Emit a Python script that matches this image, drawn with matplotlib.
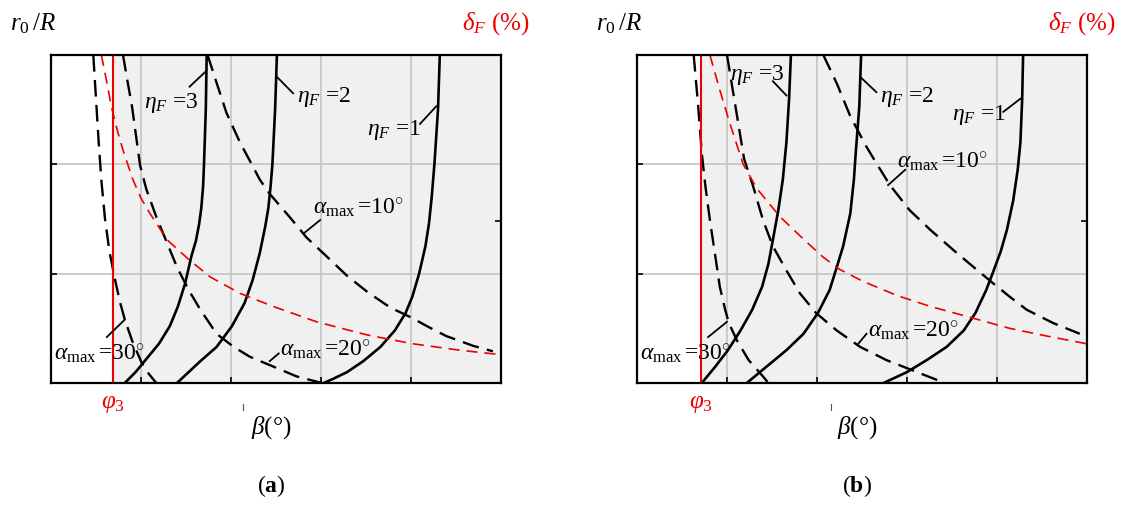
import numpy as np
import matplotlib
matplotlib.use("Agg")
import matplotlib.pyplot as plt
from matplotlib.lines import Line2D

plt.rcParams["font.family"] = ["Liberation Serif", "DejaVu Serif"]
plt.rcParams["mathtext.fontset"] = "custom"
plt.rcParams["mathtext.rm"] = "Liberation Serif"
plt.rcParams["mathtext.it"] = "Liberation Serif:italic"
plt.rcParams["mathtext.bf"] = "Liberation Serif:bold"
plt.rcParams["lines.scale_dashes"] = False

# ---------------- data: panel (a) ----------------
phi3_a = 0.69
eta3_a_x = [1.73, 1.72, 1.70, 1.69, 1.67, 1.645, 1.61, 1.56, 1.49, 1.41, 1.32, 1.20, 1.04, 0.94, 0.82]
eta3_a_y = [3.00, 2.50, 2.00, 1.80, 1.60, 1.45, 1.30, 1.16, 0.91, 0.70, 0.52, 0.36, 0.20, 0.10, 0.00]
eta2_a_x = [2.51, 2.49, 2.46, 2.44, 2.415, 2.38, 2.32, 2.24, 2.15, 2.01, 1.84, 1.66, 1.53, 1.40]
eta2_a_y = [3.00, 2.50, 2.00, 1.80, 1.60, 1.43, 1.19, 0.94, 0.73, 0.52, 0.33, 0.20, 0.10, 0.00]
eta1_a_x = [4.32, 4.30, 4.26, 4.23, 4.20, 4.16, 4.09, 4.015, 3.94, 3.82, 3.66, 3.47, 3.29, 3.14, 3.03]
eta1_a_y = [3.00, 2.50, 2.00, 1.70, 1.46, 1.25, 1.00, 0.79, 0.64, 0.48, 0.33, 0.20, 0.10, 0.04, 0.00]
a10_a_x = [1.74, 1.85, 1.95, 2.10, 2.25, 2.32, 2.43, 2.66, 2.84, 3.06, 3.29, 3.52, 3.77, 4.00, 4.20, 4.39, 4.69, 4.91]
a10_a_y = [3.00, 2.72, 2.47, 2.20, 1.97, 1.86, 1.73, 1.51, 1.33, 1.16, 0.98, 0.83, 0.69, 0.60, 0.51, 0.43, 0.34, 0.29]
a20_a_x = [0.80, 0.85, 0.90, 0.99, 1.06, 1.17, 1.29, 1.40, 1.53, 1.66, 1.84, 2.03, 2.21, 2.47, 2.73, 3.01]
a20_a_y = [3.00, 2.76, 2.53, 1.99, 1.77, 1.52, 1.28, 1.06, 0.85, 0.67, 0.45, 0.33, 0.24, 0.15, 0.06, 0.00]
a30_a_x = [0.47, 0.50, 0.53, 0.56, 0.60, 0.65, 0.71, 0.77, 0.82, 0.90, 1.01, 1.09, 1.17]
a30_a_y = [3.00, 2.60, 2.20, 1.85, 1.50, 1.20, 0.95, 0.73, 0.58, 0.39, 0.18, 0.08, 0.00]
dF_a_x = [0.56, 0.62, 0.67, 0.74, 0.80, 0.91, 1.00, 1.10, 1.29, 1.53, 1.77, 2.10, 2.47, 2.95, 3.51, 4.01, 4.54, 4.99]
dF_a_y = [3.00, 2.75, 2.53, 2.30, 2.13, 1.86, 1.69, 1.55, 1.31, 1.13, 0.97, 0.82, 0.70, 0.56, 0.44, 0.36, 0.30, 0.26]

# ---------------- data: panel (b) ----------------
phi3_b = 0.71
eta3_b_x = [1.71, 1.69, 1.66, 1.62, 1.57, 1.51, 1.46, 1.39, 1.28, 1.15, 1.01, 0.87, 0.72]
eta3_b_y = [3.00, 2.60, 2.20, 1.86, 1.58, 1.31, 1.09, 0.88, 0.67, 0.48, 0.30, 0.15, 0.00]
eta2_b_x = [2.49, 2.47, 2.43, 2.41, 2.37, 2.29, 2.22, 2.14, 2.01, 1.85, 1.66, 1.44, 1.22]
eta2_b_y = [3.00, 2.53, 2.10, 1.86, 1.55, 1.25, 1.06, 0.85, 0.64, 0.45, 0.30, 0.15, 0.00]
eta1_b_x = [4.29, 4.28, 4.26, 4.23, 4.18, 4.11, 4.04, 3.95, 3.88, 3.76, 3.63, 3.44, 3.22, 3.00, 2.74]
eta1_b_y = [3.00, 2.60, 2.20, 1.95, 1.67, 1.40, 1.20, 1.00, 0.85, 0.64, 0.48, 0.33, 0.21, 0.10, 0.00]
a10_b_x = [2.07, 2.22, 2.37, 2.55, 2.66, 2.81, 3.03, 3.26, 3.51, 3.74, 3.96, 4.14, 4.33, 4.62, 4.92]
a10_b_y = [3.00, 2.74, 2.44, 2.16, 2.01, 1.81, 1.58, 1.40, 1.22, 1.06, 0.91, 0.79, 0.67, 0.55, 0.45]
a20_b_x = [1.00, 1.05, 1.10, 1.19, 1.29, 1.40, 1.51, 1.66, 1.81, 1.99, 2.22, 2.48, 2.77, 3.11, 3.42]
a20_b_y = [3.00, 2.75, 2.50, 2.05, 1.80, 1.49, 1.25, 1.03, 0.82, 0.64, 0.48, 0.33, 0.21, 0.10, 0.00]
a30_b_x = [0.63, 0.68, 0.72, 0.76, 0.81, 0.87, 0.92, 0.98, 1.02, 1.11, 1.24, 1.40, 1.46]
a30_b_y = [3.00, 2.53, 2.10, 1.80, 1.49, 1.16, 0.88, 0.67, 0.55, 0.39, 0.21, 0.06, 0.00]
dF_b_x = [0.81, 0.92, 1.03, 1.18, 1.33, 1.59, 1.87, 2.07, 2.25, 2.51, 2.89, 3.26, 3.66, 4.14, 4.55, 4.99]
dF_b_y = [3.00, 2.68, 2.38, 2.00, 1.78, 1.52, 1.30, 1.15, 1.04, 0.93, 0.80, 0.70, 0.61, 0.50, 0.43, 0.36]

eta_labels = [r"$\eta_F$ =3", r"$\eta_F$ =2", r"$\eta_F$ =1"]
alpha_labels = [r"$\alpha_{\mathrm{max}}\,$=10$^{\circ}$",
                r"$\alpha_{\mathrm{max}}\,$=20$^{\circ}$",
                r"$\alpha_{\mathrm{max}}\,$=30$^{\circ}$"]

panels = [
    dict(tag="a", phi3=phi3_a,
         eta=[(eta3_a_x, eta3_a_y), (eta2_a_x, eta2_a_y), (eta1_a_x, eta1_a_y)],
         alpha=[(a10_a_x, a10_a_y), (a20_a_x, a20_a_y), (a30_a_x, a30_a_y)],
         dF=(dF_a_x, dF_a_y),
         # label anchor (left, centre) and leader segment for each curve label
         eta_txt=[(1.03, 2.56), (2.73, 2.62), (3.51, 2.31)],
         eta_lead=[((1.54, 2.71), (1.72, 2.85)), ((2.51, 2.80), (2.69, 2.65)),
                   ((4.10, 2.37), (4.28, 2.53))],
         alpha_txt=[(2.91, 1.60), (2.54, 0.30), (0.03, 0.26)],
         alpha_lead=[((2.99, 1.49), (2.81, 1.37)), ((2.53, 0.27), (2.43, 0.20)),
                     ((0.62, 0.42), (0.82, 0.58))]),
    dict(tag="b", phi3=phi3_b,
         eta=[(eta3_b_x, eta3_b_y), (eta2_b_x, eta2_b_y), (eta1_b_x, eta1_b_y)],
         alpha=[(a10_b_x, a10_b_y), (a20_b_x, a20_b_y), (a30_b_x, a30_b_y)],
         dF=(dF_b_x, dF_b_y),
         eta_txt=[(1.03, 2.82), (2.70, 2.62), (3.50, 2.45)],
         eta_lead=[((1.51, 2.76), (1.66, 2.63)), ((2.48, 2.80), (2.66, 2.66)),
                   ((4.07, 2.48), (4.26, 2.60))],
         alpha_txt=[(2.89, 2.02), (2.57, 0.47), (0.03, 0.26)],
         alpha_lead=[((2.98, 1.95), (2.79, 1.81)), ((2.55, 0.45), (2.46, 0.36)),
                     ((0.79, 0.42), (1.00, 0.56))]),
]

W, H = 1121, 505
fig = plt.figure(figsize=(W / 100, H / 100), dpi=100)

ax_left_px = [51, 637]
ax_w_px, ax_top_px, ax_bot_px = 450, 55, 383

for p, lpx in zip(panels, ax_left_px):
    ax = fig.add_axes([lpx / W, (H - ax_bot_px) / H, ax_w_px / W,
                       (ax_bot_px - ax_top_px) / H])
    ax.set_xlim(0, 5)
    ax.set_ylim(0, 3)

    # shaded feasible region right of phi_3
    ax.axvspan(p["phi3"], 5, color="#f0f0f0", zorder=0, lw=0)
    for gx in [1, 2, 3, 4]:
        ax.axvline(gx, color="#c4c4c4", lw=1.2, zorder=1)
    for gy in [1, 2]:
        ax.axhline(gy, color="#c4c4c4", lw=1.2, zorder=1)

    for xs, ys in p["eta"]:
        ax.plot(xs, ys, color="black", lw=1.9, zorder=3, solid_joinstyle="round")
    for xs, ys in p["alpha"]:
        ax.plot(xs, ys, color="black", lw=1.7, zorder=3, dashes=(12, 6))
    ax.plot(p["dF"][0], p["dF"][1], color="#ee0000", lw=1.2, zorder=4, dashes=(8, 5))
    ax.axvline(p["phi3"], color="#ee0000", lw=1.5, zorder=4)

    for lab, (tx, ty), (p0, p1) in zip(eta_labels, p["eta_txt"], p["eta_lead"]):
        ax.text(tx, ty, lab, fontsize=17, ha="left", va="center", zorder=5)
        ax.plot([p0[0], p1[0]], [p0[1], p1[1]], color="black", lw=1.3, zorder=5)
    for lab, (tx, ty), (p0, p1) in zip(alpha_labels, p["alpha_txt"], p["alpha_lead"]):
        ax.text(tx, ty, lab, fontsize=17, ha="left", va="center", zorder=5)
        ax.plot([p0[0], p1[0]], [p0[1], p1[1]], color="black", lw=1.3, zorder=5)

    ax.set_xticks([1, 2, 3, 4])
    ax.set_yticks([1, 2])
    ax.set_xticklabels([])
    ax.set_yticklabels([])
    ax.tick_params(direction="in", length=4, width=1.2, top=False, right=False)
    for s in ax.spines.values():
        s.set_linewidth(1.6)
        s.set_zorder(6)

    axr = ax.twinx()
    axr.set_ylim(0, 3)
    axr.set_yticks([1.48])
    axr.set_yticklabels([])
    axr.tick_params(direction="in", length=4, width=1.2)
    for s in axr.spines.values():
        s.set_visible(False)

    # outer axis captions
    off = lpx - 51
    fig.text((10 + off) / W, 1 - 24 / H, r"$r_0\,/R$", fontsize=18, ha="left", va="center")
    fig.text((462 + off) / W, 1 - 24 / H, r"$\delta_F$ (%)", fontsize=18,
             ha="left", va="center", color="#ee0000")
    phi_px = lpx + p["phi3"] * 90
    fig.text(phi_px / W, 1 - 404 / H, r"$\varphi_3$", fontsize=18, ha="center",
             va="center", color="#ee0000")
    mark_px = 243 + off + (2 if p["tag"] == "b" else 0)
    fig.add_artist(Line2D([mark_px / W, mark_px / W], [1 - 404 / H, 1 - 410 / H],
                          color="#555555", lw=0.8))
    fig.text((271 + off) / W, 1 - 428 / H, r"$\beta$(°)", fontsize=18,
             ha="center", va="center")
    fig.text((271 + off) / W, 1 - 486 / H, r"($\mathbf{%s}$)" % p["tag"],
             fontsize=17, ha="center", va="center")

fig.savefig("out.png", dpi=100)
